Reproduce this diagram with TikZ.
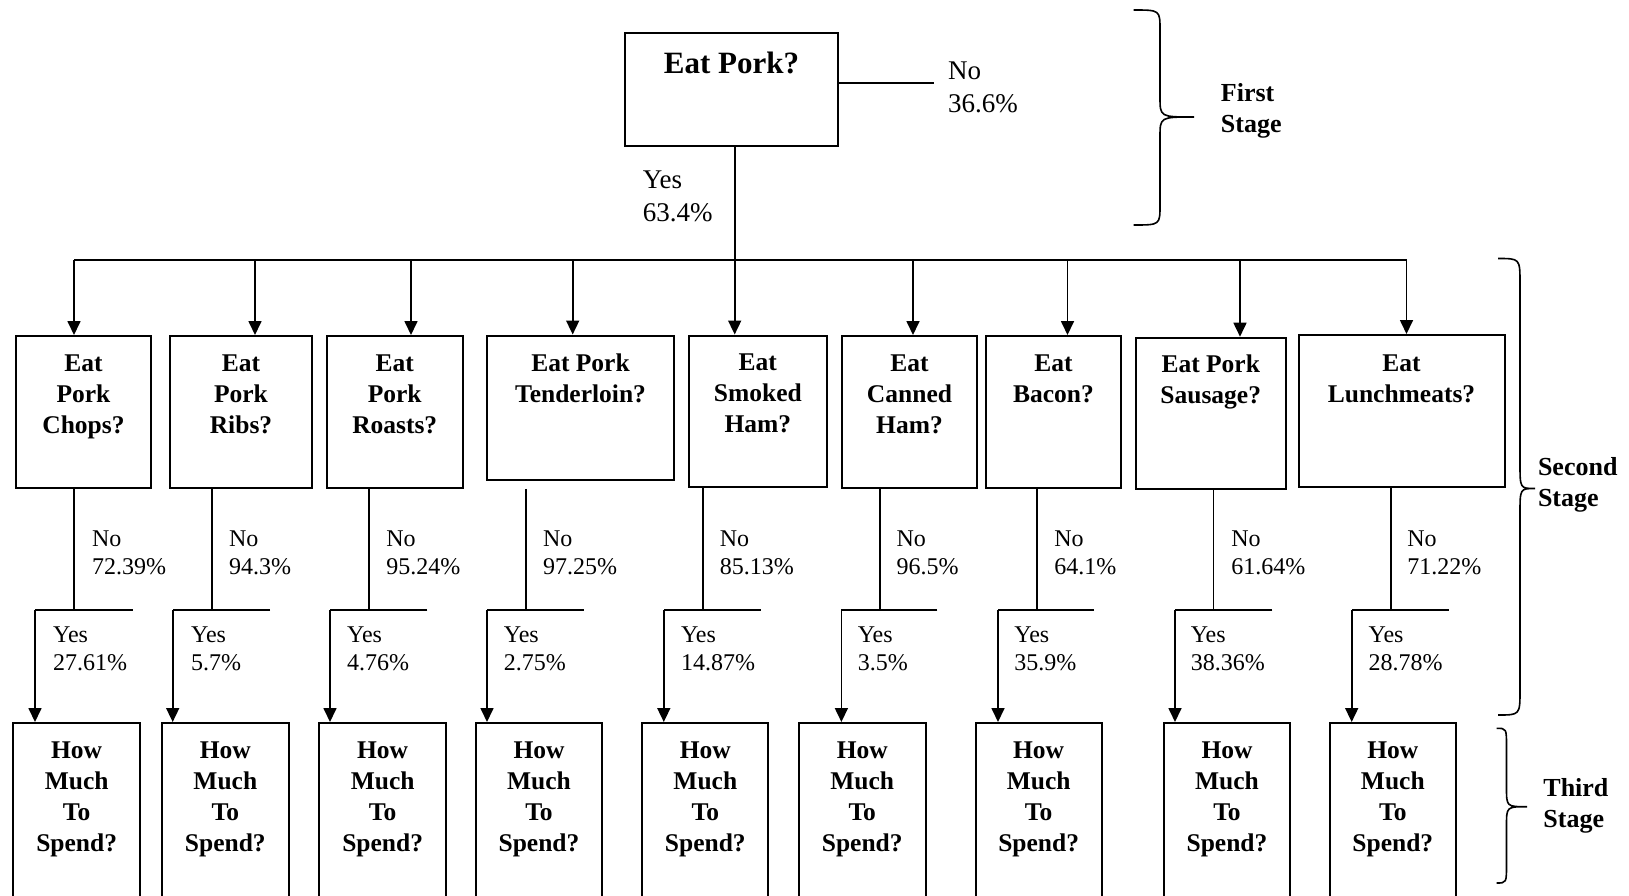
\documentclass[tikz,border=0pt]{standalone}
\usepackage{fontspec}
\setmainfont{Liberation Serif}
\usetikzlibrary{arrows.meta,fit}

% curly brace opening to the left, tip pointing right
% #1 end x, #2 spine x, #3 tip x, #4 top y, #5 tip y, #6 bottom y, #7 bend
\newcommand\stagebrace[7]{%
  \draw[brc] (#1,#4) .. controls (#2,#4) .. (#2,#4+#7) -- (#2,#5-#7)
    .. controls (#2,#5) .. (#3,#5) .. controls (#2,#5) .. (#2,#5+#7)
    -- (#2,#6-#7) .. controls (#2,#6) .. (#1,#6);}

\begin{document}
\begin{tikzpicture}[x=0.5pt,y=-0.5pt,
  box/.style={draw, line width=1pt, inner sep=0pt},
  conn/.style={line width=0.85pt},
  arr/.style={conn, -{Triangle[length=7pt,width=6.5pt]}},
  brc/.style={line width=0.8pt},
  toptxt/.style={font=\fontsize{15.5pt}{18pt}\selectfont\bfseries, inner sep=0pt, anchor=north},
  qtxt/.style={font=\fontsize{12.75pt}{15.5pt}\selectfont\bfseries, align=center, inner sep=0pt, anchor=north},
  toplbl/.style={font=\fontsize{13.5pt}{16.6pt}\selectfont, align=left, inner sep=0pt, anchor=north west},
  pct/.style={font=\fontsize{12pt}{14.15pt}\selectfont, align=left, inner sep=0pt, anchor=north west},
  stagetxt/.style={font=\fontsize{13pt}{15.5pt}\selectfont\bfseries, align=left, inner sep=0pt, anchor=north west}]

\useasboundingbox (0,0) rectangle (1629,895);
\clip (0,0) rectangle (1629,895);

% ---------- first stage ----------
\node[box, fit={(625.4,32.7) (837.5,146)}] (ep) {};
\node[toptxt] (ept) at (ep.north |- 0,51.7) {Eat Pork?};
\coordinate (epno) at (934.3,83);
\draw[conn] (ep.east |- epno) -- (epno);
\node[toplbl] (eplno) at (947.7,61.5) {No\\36.6\%};
\node[toplbl] (eplyes) at (642.4,170.7) {Yes\\63.4\%};

\stagebrace{1133.5}{1160}{1194}{10}{117}{225}{20}
\node[stagetxt] (st1) at (1220.5,83.3) {First\\Stage};

% ---------- second stage boxes ----------
\node[box, fit={(16,336) (151,487.5)}] (s1) {};
\node[box, fit={(170,336) (312,487.5)}] (s2) {};
\node[box, fit={(327,336) (462.5,487.5)}] (s3) {};
\node[box, fit={(487,335.5) (674,479.5)}] (s4) {};
\node[box, fit={(688.7,335.5) (827,486.5)}] (s5) {};
\node[box, fit={(842,336) (977,488)}] (s6) {};
\node[box, fit={(986,336) (1121,488)}] (s7) {};
\node[box, fit={(1135.5,337.7) (1286,489)}] (s8) {};
\node[box, fit={(1298.5,335) (1504.5,486.5)}] (s9) {};

\node[qtxt] (s1t) at (s1.north |- 0,354.5) {Eat\\Pork\\Chops?};
\node[qtxt] (s2t) at (s2.north |- 0,354.5) {Eat\\Pork\\Ribs?};
\node[qtxt] (s3t) at (s3.north |- 0,354.5) {Eat\\Pork\\Roasts?};
\node[qtxt] (s4t) at (s4.north |- 0,353.5) {Eat Pork\\Tenderloin?};
\node[qtxt] (s5t) at (s5.north |- 0,353.5) {Eat\\Smoked\\Ham?};
\node[qtxt] (s6t) at (s6.north |- 0,354.5) {Eat\\Canned\\Ham?};
\node[qtxt] (s7t) at (s7.north |- 0,354.5) {Eat\\Bacon?};
\node[qtxt] (s8t) at (s8.north |- 0,354.5) {Eat Pork\\Sausage?};
\node[qtxt] (s9t) at (s9.north |- 0,354.5) {Eat\\Lunchmeats?};

% distribution bar with drops into each box
\coordinate (a1) at (74,260);
\coordinate (a2) at (255,260);
\coordinate (a3) at (411,260);
\coordinate (a4) at (572.7,260);
\coordinate (a5) at (734.7,260);
\coordinate (a6) at (913,260);
\coordinate (a7) at (1067.5,260);
\coordinate (a8) at (1240,260);
\coordinate (a9) at (1406.5,260);
\draw[conn] (ep.south -| a5) -- (a5);
\draw[conn] (a1) -- (a9);
\foreach \i in {1,...,9} {\draw[arr] (a\i) -- (a\i |- s\i.north);}

\stagebrace{1498}{1520}{1535}{258.5}{488.5}{715}{25}
\node[stagetxt] (st2) at (1537.6,456.7) {Second\\Stage};

% ---------- third stage boxes ----------
\node[box, fit={(13.3,723) (140,920)}] (b1) {};
\node[box, fit={(162,723) (288.7,920)}] (b2) {};
\node[box, fit={(319.3,723) (446,920)}] (b3) {};
\node[box, fit={(476,723) (602,920)}] (b4) {};
\node[box, fit={(642.3,723) (768.3,920)}] (b5) {};
\node[box, fit={(799,723) (925.5,920)}] (b6) {};
\node[box, fit={(975.8,723) (1101.5,920)}] (b7) {};
\node[box, fit={(1164,723) (1290,920)}] (b8) {};
\node[box, fit={(1330,723) (1455.7,920)}] (b9) {};
\foreach \i in {1,...,9} {
  \node[qtxt] (b\i t) at (b\i.north |- 0,741) {How\\Much\\To\\Spend?};
}

% ---------- yes / no splits ----------
\coordinate (v1) at (74,610);     \coordinate (y1) at (35,610);     \coordinate (h1) at (132.7,610);
\coordinate (v2) at (212,610);    \coordinate (y2) at (172.7,610);  \coordinate (h2) at (270,610);
\coordinate (v3) at (369,610);    \coordinate (y3) at (330,610);    \coordinate (h3) at (427.3,610);
\coordinate (v4) at (525.8,610);  \coordinate (y4) at (487,610);    \coordinate (h4) at (583.8,610);
\coordinate (v5) at (703,610);    \coordinate (y5) at (663.8,610);  \coordinate (h5) at (760.6,610);
\coordinate (v6) at (879.7,610);  \coordinate (y6) at (841.4,610);  \coordinate (h6) at (937.4,610);
\coordinate (v7) at (1037.1,610); \coordinate (y7) at (998,610);    \coordinate (h7) at (1094,610);
\coordinate (v8) at (1213.5,610); \coordinate (y8) at (1175,610);   \coordinate (h8) at (1272.4,610);
\coordinate (v9) at (1391,610);   \coordinate (y9) at (1351.7,610); \coordinate (h9) at (1448.7,610);

\foreach \i in {1,2,3,5,6,7,8,9} {\draw[conn] (s\i.south -| v\i) -- (v\i);}
\draw[conn] ([yshift=-4.2pt]s4.south -| v4) -- (v4);
\foreach \i in {1,...,9} {
  \draw[conn] (h\i) -- (y\i);
  \draw[arr] (y\i) -- (y\i |- b\i.north);
}

\node[pct] (n1) at (91.7,530) {No\\72.39\%};
\node[pct] (n2) at (228.7,530) {No\\94.3\%};
\node[pct] (n3) at (386,530) {No\\95.24\%};
\node[pct] (n4) at (542.6,530) {No\\97.25\%};
\node[pct] (n5) at (719.4,530) {No\\85.13\%};
\node[pct] (n6) at (896.1,530) {No\\96.5\%};
\node[pct] (n7) at (1054,530) {No\\64.1\%};
\node[pct] (n8) at (1230.9,530) {No\\61.64\%};
\node[pct] (n9) at (1407,530) {No\\71.22\%};

\node[pct] (p1) at (52.7,626.5) {Yes\\27.61\%};
\node[pct] (p2) at (190.7,626.5) {Yes\\5.7\%};
\node[pct] (p3) at (346.7,626.5) {Yes\\4.76\%};
\node[pct] (p4) at (503.5,626.5) {Yes\\2.75\%};
\node[pct] (p5) at (680.6,626.5) {Yes\\14.87\%};
\node[pct] (p6) at (857.4,626.5) {Yes\\3.5\%};
\node[pct] (p7) at (1014,626.5) {Yes\\35.9\%};
\node[pct] (p8) at (1190.4,626.5) {Yes\\38.36\%};
\node[pct] (p9) at (1368.2,626.5) {Yes\\28.78\%};

\stagebrace{1496.5}{1506.5}{1527}{728.3}{806.7}{883}{19}
\node[stagetxt] (st3) at (1543,778.3) {Third\\Stage};

\end{tikzpicture}
\end{document}
